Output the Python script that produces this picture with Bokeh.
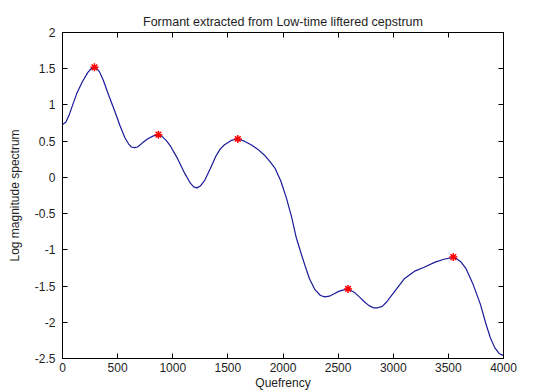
from bokeh.plotting import figure
from bokeh.models import LinearAxis, FixedTicker, NumeralTickFormatter, Range1d
from bokeh.embed import file_html
from bokeh.resources import INLINE

# Curve (quefrency, log magnitude)
quef = [0, 30, 60, 90, 130, 180, 230, 260, 285, 305, 335, 370, 420, 475, 520, 565,
        600, 625, 650, 680, 720, 770, 820, 860, 900, 940, 980, 1040, 1100, 1160, 1190,
        1220, 1250, 1290, 1340, 1390, 1430, 1470, 1530, 1590, 1650, 1710, 1770, 1830,
        1880, 1930, 1980, 2030, 2080, 2120, 2160, 2200, 2240, 2290, 2340, 2380, 2420,
        2460, 2510, 2560, 2600, 2650, 2700, 2740, 2780, 2820, 2860, 2900, 2940, 2980,
        3030, 3100, 3200, 3280, 3380, 3460, 3520, 3560, 3610, 3660, 3720, 3790, 3840,
        3880, 3920, 3960, 4000]
logmag = [0.73, 0.76, 0.86, 0.99, 1.16, 1.32, 1.45, 1.50, 1.52, 1.51, 1.46, 1.34, 1.13,
          0.91, 0.72, 0.55, 0.46, 0.42, 0.41, 0.42, 0.47, 0.53, 0.57, 0.59, 0.57, 0.51,
          0.43, 0.27, 0.08, -0.08, -0.13, -0.145, -0.12, -0.04, 0.12, 0.29, 0.39, 0.45,
          0.51, 0.53, 0.50, 0.45, 0.39, 0.31, 0.22, 0.12, -0.05, -0.28, -0.56, -0.83,
          -1.03, -1.22, -1.40, -1.55, -1.63, -1.65, -1.64, -1.61, -1.57, -1.55, -1.55,
          -1.59, -1.66, -1.72, -1.77, -1.80, -1.80, -1.78, -1.72, -1.64, -1.54, -1.40,
          -1.29, -1.24, -1.17, -1.13, -1.11, -1.11, -1.16, -1.26, -1.46, -1.75, -2.02,
          -2.21, -2.35, -2.43, -2.46]

# Formant peaks
peak_q = [290, 870, 1590, 2590, 3545]
peak_v = [1.52, 0.59, 0.53, -1.54, -1.10]

x_ticks = [0, 500, 1000, 1500, 2000, 2500, 3000, 3500, 4000]
y_ticks = [-2.5, -2, -1.5, -1, -0.5, 0, 0.5, 1, 1.5, 2]

FONT = "Liberation Sans"
TXT = "#1e1e1e"

p = figure(width=538, height=392, output_backend="svg", toolbar_location=None,
           x_range=Range1d(0, 4000), y_range=Range1d(-2.5, 2),
           title="Formant extracted from Low-time liftered cepstrum",
           min_border_left=62, min_border_top=32, min_border_right=35, min_border_bottom=34)

p.title.align = "center"
p.title.text_font = FONT
p.title.text_font_size = "12.5px"
p.title.text_font_style = "normal"
p.title.text_color = TXT
p.title.standoff = 7

p.grid.visible = False
p.outline_line_color = "black"
p.outline_line_width = 1
p.background_fill_color = "white"
p.border_fill_color = "white"

for ax in (p.xaxis[0], p.yaxis[0]):
    ax.major_tick_in = 5
    ax.major_tick_out = 0
    ax.minor_tick_in = 0
    ax.minor_tick_out = 0
    ax.axis_line_color = "black"
    ax.major_tick_line_color = "black"
    ax.major_label_text_font = FONT
    ax.major_label_text_font_size = "12px"
    ax.major_label_text_color = TXT
    ax.axis_label_text_font = FONT
    ax.axis_label_text_font_size = "12px"
    ax.axis_label_text_font_style = "normal"
    ax.axis_label_text_color = TXT

p.xaxis[0].ticker = FixedTicker(ticks=x_ticks)
p.yaxis[0].ticker = FixedTicker(ticks=y_ticks)
p.yaxis[0].formatter = NumeralTickFormatter(format="0.[0]")
p.xaxis[0].axis_label = "Quefrency"
p.yaxis[0].axis_label = "Log magnitude spectrum"
p.xaxis[0].major_label_standoff = 4
p.xaxis[0].axis_label_standoff = 1
p.yaxis[0].major_label_standoff = 7
p.yaxis[0].axis_label_standoff = 10

for loc, ticks in (("above", x_ticks), ("right", y_ticks)):
    a = LinearAxis(ticker=FixedTicker(ticks=ticks))
    a.major_tick_in = 5
    a.major_tick_out = 0
    a.minor_tick_in = 0
    a.minor_tick_out = 0
    a.major_label_text_font_size = "1px"
    a.major_label_text_color = None
    a.major_label_text_alpha = 0
    a.major_label_standoff = 0
    a.axis_line_color = "black"
    a.major_tick_line_color = "black"
    p.add_layout(a, loc)

p.line(quef, logmag, line_color="#1a1a9a", line_width=1.2)
p.scatter(peak_q, peak_v, marker="asterisk", size=8, line_color="red", line_width=1.5)

open("out.html", "w").write(file_html(p, INLINE))
